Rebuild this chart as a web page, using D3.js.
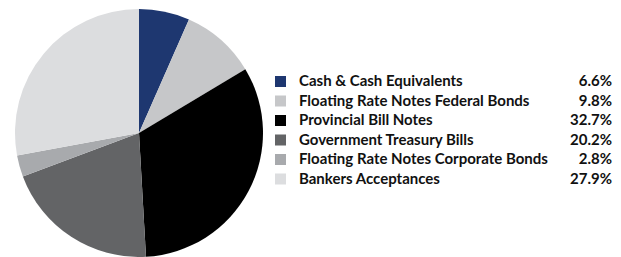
<!DOCTYPE html>
<html><head><meta charset="utf-8">
<script src="https://cdn.jsdelivr.net/npm/d3@7"></script>
<style>body{margin:0;background:#fff}svg{display:block}</style>
</head><body>
<svg id="c" width="621" height="257"></svg>
<script>
const categories = ["Cash & Cash Equivalents","Floating Rate Notes Federal Bonds","Provincial Bill Notes","Government Treasury Bills","Floating Rate Notes Corporate Bonds","Bankers Acceptances"];
const values = [6.6, 9.8, 32.7, 20.2, 2.8, 27.9];
const labels = ["6.6%","9.8%","32.7%","20.2%","2.8%","27.9%"];
const colors = ["#1e3770","#c6c7c9","#000000","#636466","#a8aaad","#dcdddf"];

const svg = d3.select("#c");
const data = categories.map((c,i)=>({c, v: values[i], l: labels[i], col: colors[i]}));
const pie = d3.pie().sort(null).value(d=>d.v);
const arc = d3.arc().innerRadius(0).outerRadius(124);
svg.append("g").attr("transform","translate(139,133)")
  .selectAll("path").data(pie(data)).join("path")
  .attr("d", arc).attr("fill", d=>d.data.col);

const y = d3.scalePoint().domain(categories).range([86, 183.5]);
const lg = svg.append("g");
const rows = lg.selectAll("g").data(data).join("g").attr("transform", d=>`translate(0,${y(d.c)})`);
rows.append("rect").attr("x",275).attr("y",-10).attr("width",11).attr("height",11).attr("fill",d=>d.col);
rows.append("text").attr("x",299).attr("y",0).text(d=>d.c)
  .attr("font-family","Lato, sans-serif").attr("font-weight","bold").attr("font-size",15).attr("fill","#111");
rows.append("text").attr("x",612).attr("y",0).attr("text-anchor","end").text(d=>d.l)
  .attr("font-family","Lato, sans-serif").attr("font-weight","bold").attr("font-size",15).attr("fill","#111");
</script>
</body></html>
